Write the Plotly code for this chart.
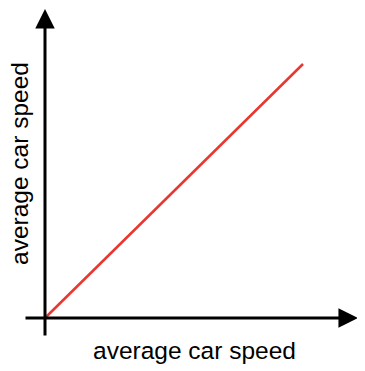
import plotly.graph_objects as go

# data
speed_x = [0, 10]
speed_y = [0, 10]
x_label = "average car speed"
y_label = "average car speed"

# axis ranges in data units
x_range = [-1.434, 12.403]
y_range = [-2.087, 12.205]

W, H = 357, 363  # page body has an 8px margin

fig = go.Figure()
fig.add_trace(go.Scatter(x=speed_x, y=speed_y, mode="lines",
                         line=dict(color="#e8372f", width=2.5),
                         hoverinfo="skip", showlegend=False))

# axis lines with arrows
fig.add_annotation(x=12.13, y=0, ax=-0.814, ay=0, xref="x", yref="y",
                   axref="x", ayref="y", text="", showarrow=True,
                   arrowhead=2, arrowsize=1.3, arrowwidth=3, arrowcolor="black",
                   standoff=0)
fig.add_annotation(x=0, y=12.17, ax=0, ay=-0.748, xref="x", yref="y",
                   axref="x", ayref="y", text="", showarrow=True,
                   arrowhead=2, arrowsize=1.3, arrowwidth=3, arrowcolor="black",
                   standoff=0)

font = dict(size=24.5, color="black", family="Liberation Sans, Arial, sans-serif")
fig.add_annotation(xref="paper", yref="paper", x=186 / W, y=1 - 342 / H,
                   xanchor="center", yanchor="middle", text=x_label,
                   showarrow=False, font=font)
fig.add_annotation(xref="paper", yref="paper", x=11 / W, y=1 - 156 / H,
                   xanchor="center", yanchor="middle", text=y_label,
                   textangle=-90, showarrow=False, font=font)

fig.update_layout(
    width=W, height=H,
    margin=dict(l=0, r=0, t=0, b=0),
    paper_bgcolor="white", plot_bgcolor="white",
    xaxis=dict(range=x_range, visible=False, fixedrange=True),
    yaxis=dict(range=y_range, visible=False, fixedrange=True),
)

fig.write_html("out.html")
